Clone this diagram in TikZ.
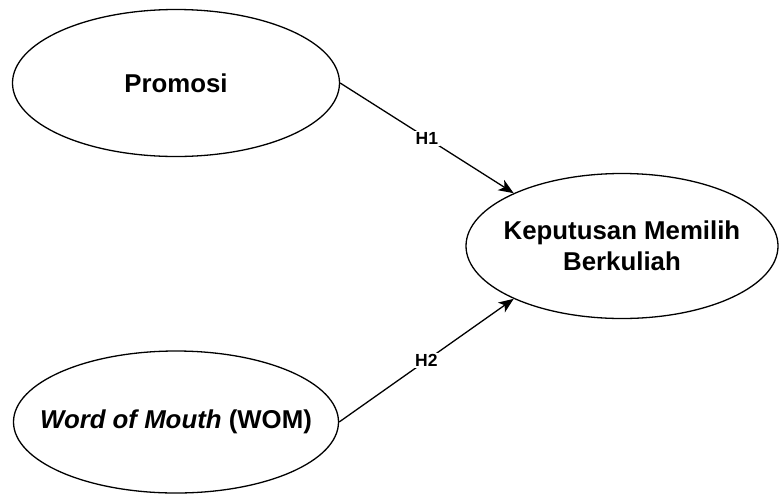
\documentclass[tikz,border=0pt]{standalone}
\usepackage{fontspec}
\setmainfont{Liberation Sans}
\usetikzlibrary{shapes.geometric,arrows.meta}

\begin{document}
\begin{tikzpicture}[x=1pt,y=-1pt,
  construct/.style={ellipse, draw, line width=1.3pt, inner ysep=0pt, inner xsep=-40pt, align=center,
    font=\fontsize{25.8}{31.5}\selectfont\bfseries},
  hyp/.style={-{Stealth[length=15pt,width=12pt,inset=4pt]}, line width=1.3pt},
  hlabel/.style={fill=white, inner sep=1.5pt, font=\fontsize{17.5}{19}\selectfont\bfseries}]
\useasboundingbox (0,0) rectangle (781,496);

\node (pro) at (176,83) [construct, minimum width=327pt, minimum height=147pt] {Promosi};
\node (wom) at (176,422) [construct, minimum width=325pt, minimum height=142pt] {\textit{Word of Mouth} (WOM)};
\node (kep) at (622,246) [construct, minimum width=312pt, minimum height=145pt] {Keputusan Memilih\\Berkuliah};

\draw [hyp] (pro.east) -- (kep.154) node[midway, hlabel] {H1};
\draw [hyp] (wom.east) -- (kep.206) node[midway, hlabel] {H2};
\end{tikzpicture}
\end{document}
